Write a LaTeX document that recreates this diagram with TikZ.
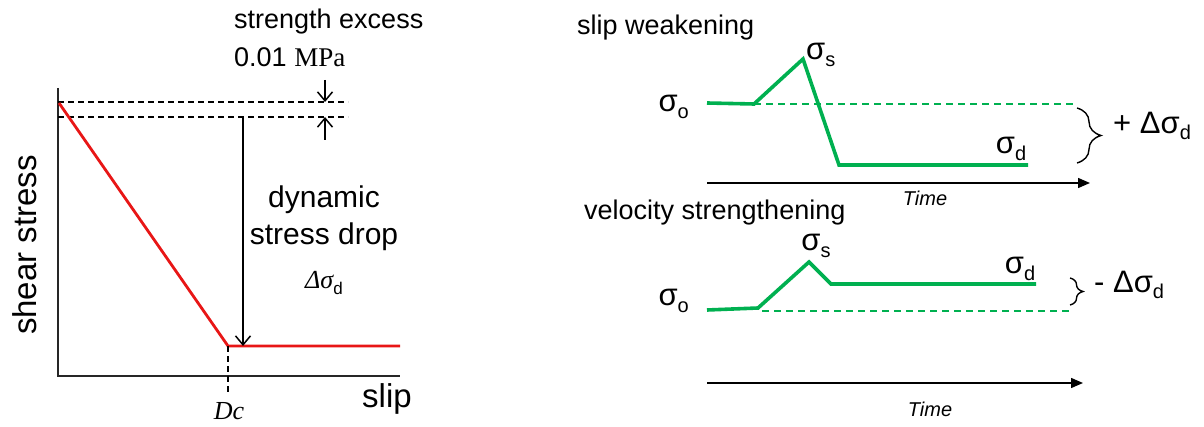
\documentclass[tikz,border=0pt]{standalone}
\usepackage{fontspec}
\setmainfont{Liberation Sans}
\newfontfamily\seriffam{Liberation Serif}
\usetikzlibrary{arrows.meta,decorations.pathreplacing}
\definecolor{curvegreen}{RGB}{0,176,80}
\definecolor{curvered}{RGB}{232,22,22}
% small lowered index, size given in pt
\newcommand{\lowidx}[2]{\raisebox{-0.4ex}{\fontsize{#1}{#1}\selectfont #2}}

\begin{document}
\begin{tikzpicture}[x=1pt, y=-1pt,
    axis/.style={line width=1.6pt, black!85},
    guide/.style={line width=1.6pt, dash pattern=on 6pt off 4pt},
    redcurve/.style={line width=2.8pt, curvered},
    greencurve/.style={line width=3.6pt, curvegreen},
    greenguide/.style={line width=1.4pt, curvegreen, dash pattern=on 7pt off 5pt},
    vee/.style={-{Straight Barb[length=9pt,width=15pt]}, line width=1.5pt},
    timeaxis/.style={-{Triangle[length=12pt,width=10pt]}, line width=1.4pt},
    bracket/.style={decorate, line width=1.4pt, decoration={brace, amplitude=#1, aspect=0.5}},
    title/.style={font=\fontsize{27}{30}\selectfont, inner sep=0pt},
    axlabel/.style={font=\fontsize{33}{36}\selectfont, inner sep=0pt},
    note/.style={font=\fontsize{30}{33}\selectfont, inner sep=0pt},
    sig/.style={font=\fontsize{31}{33}\selectfont, inner sep=0pt},
    timelabel/.style={font=\fontsize{20}{22}\selectfont\itshape, inner sep=0pt}
]
    \useasboundingbox (0,0) rectangle (1204,427);

    % --- left: slip weakening law ---
    \coordinate (ytop) at (58,88);
    \coordinate (O) at (58,376);
    \coordinate (xend) at (400,376);
    \draw[axis] (ytop) -- (O) -- (xend);

    \coordinate (peak) at (59,103);
    \coordinate (Dcpt) at (228,346);
    \coordinate (redend) at (400,346);

    % strength levels
    \coordinate (lvA) at (58,102);
    \coordinate (lvAe) at (348,102);
    \coordinate (lvB) at (58,117);
    \coordinate (lvBe) at (348,117);
    \draw[guide] (lvA) -- (lvAe);
    \draw[guide] (lvB) -- (lvBe);

    \draw[redcurve] (peak) -- (Dcpt) -- (redend);

    % excess arrows
    \coordinate (exA) at (325,80);
    \coordinate (exAe) at (325,102);
    \coordinate (exB) at (325,140);
    \coordinate (exBe) at (325,117);
    \draw[vee] (exA) -- (exAe);
    \draw[vee] (exB) -- (exBe);

    % stress drop arrow
    \coordinate (dropA) at (243,117);
    \coordinate (dropB) at (243,346);
    \draw[vee] (dropA) -- (dropB);

    \coordinate (DcA) at (228,346);
    \coordinate (DcB) at (228,393);
    \draw[guide] (DcA) -- (DcB);

    \node[title, anchor=west] (excess) at (234,22) {strength excess};
    \node[title, anchor=west] (mpa) at (234,57) {0.01 {\seriffam MPa}};
    \node[note] (dyn) at (324,200) {dynamic};
    \node[note] (drop) at (324,237) {stress drop};
    \node[inner sep=0pt, font=\fontsize{26}{28}\selectfont] (dsig) at (324,283)
        {{\seriffam\itshape Δσ}\lowidx{17}{d}};
    \node[inner sep=0pt, font=\fontsize{26}{28}\selectfont\seriffam\itshape] (Dc) at (229,411) {Dc};
    \node[axlabel] (slip) at (387,399) {slip};
    \node[axlabel, rotate=90] (shear) at (25,245) {shear stress};

    % --- right top: slip weakening ---
    \node[title, anchor=west] (sw) at (577,28) {slip weakening};
    \coordinate (a0) at (707,103);
    \coordinate (a1) at (754,104);
    \coordinate (a2) at (803,59);
    \coordinate (a3) at (839,165);
    \coordinate (a4) at (1028,165);
    \coordinate (a5) at (1073,104);
    \draw[greenguide] (a1) -- (a5);
    \draw[greencurve] (a0) -- (a1) -- (a2) -- (a3) -- (a4);

    \node[sig, anchor=east] (so1) at (689,107) {σ\lowidx{20}{o}};
    \node[sig, anchor=west] (ss1) at (806,55) {σ\lowidx{20}{s}};
    \node[sig] (sd1) at (1011,149) {σ\lowidx{20}{d}};

    \coordinate (brA) at (1077,108);
    \coordinate (brB) at (1077,163);
    \draw[bracket=24pt] (brA) -- (brB);
    \node[sig, anchor=west] (plus) at (1113,126) {+ Δσ\lowidx{20}{d}};

    \coordinate (t0) at (707,183);
    \coordinate (t1) at (1090,183);
    \draw[timeaxis] (t0) -- (t1);
    \node[timelabel] (time1) at (925,198) {Time};

    % --- right bottom: velocity strengthening ---
    \node[title, anchor=west] (vs) at (584,213) {velocity strengthening};
    \coordinate (b0) at (707,310);
    \coordinate (b1) at (758,308);
    \coordinate (b2) at (809,262);
    \coordinate (b3) at (831,284);
    \coordinate (b4) at (1036,284);
    \coordinate (b5) at (762,311);
    \coordinate (b6) at (1070,311);
    \draw[greenguide] (b5) -- (b6);
    \draw[greencurve] (b0) -- (b1) -- (b2) -- (b3) -- (b4);

    \node[sig, anchor=east] (so2) at (689,301) {σ\lowidx{20}{o}};
    \node[sig] (ss2) at (816,246) {σ\lowidx{20}{s}};
    \node[sig] (sd2) at (1020,269) {σ\lowidx{20}{d}};

    \coordinate (brC) at (1070,278);
    \coordinate (brD) at (1070,305);
    \draw[bracket=13pt] (brC) -- (brD);
    \node[sig, anchor=west] (minus) at (1094,285) {- Δσ\lowidx{20}{d}};

    \coordinate (t2) at (707,383);
    \coordinate (t3) at (1083,383);
    \draw[timeaxis] (t2) -- (t3);
    \node[timelabel] (time2) at (930,409) {Time};
\end{tikzpicture}
\end{document}
